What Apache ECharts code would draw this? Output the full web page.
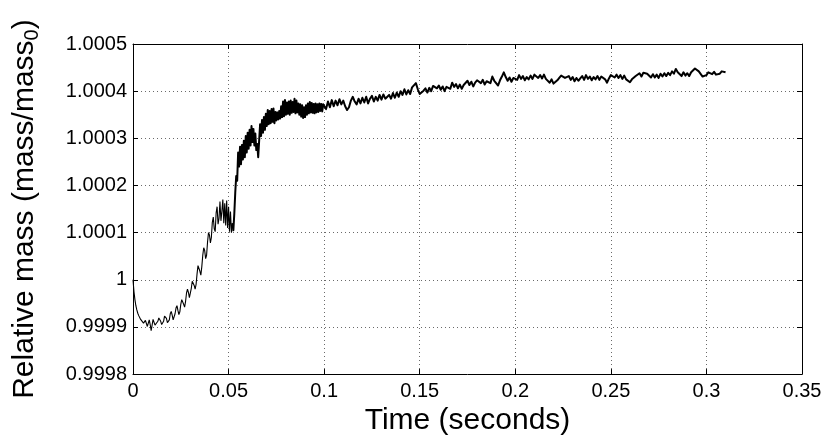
<!DOCTYPE html>
<html>
<head>
<meta charset="utf-8">
<script src="https://cdn.jsdelivr.net/npm/echarts@6/dist/echarts.min.js"></script>
<style>
html,body{margin:0;padding:0;background:#fff;}
#chart{width:825px;height:441px;}
</style>
</head>
<body>
<div id="chart"></div>
<script>
// ---- Data (relative mass) ----
// Segment A: t = 0 ... 0.052 s, sampled every 0.0005 s
const segATimeStart = 0.0, segATimeStep = 0.0005;
const massA = [
1.000000,0.999975,0.999958,0.999945,0.999936,0.999929,0.999924,0.999920,0.999916,0.999912,
0.999916,0.999908,0.999904,0.999914,0.999910,0.999901,0.999908,0.999915,0.999905,0.999892,
0.999904,0.999916,0.999912,0.999904,0.999900,0.999903,0.999912,0.999919,0.999920,0.999912,
0.999905,0.999904,0.999912,0.999923,0.999926,0.999918,0.999909,0.999907,0.999915,0.999928,
0.999933,0.999925,0.999915,0.999916,0.999928,0.999940,0.999945,0.999935,0.999926,0.999932,
0.999948,0.999958,0.999960,0.999948,0.999942,0.999954,0.999972,0.999980,0.999973,0.999962,
0.999964,0.999982,0.999997,1.000000,0.999988,0.999980,0.999990,1.000012,1.000030,1.000033,
1.000018,1.000010,1.000028,1.000052,1.000068,1.000062,1.000045,1.000052,1.000080,1.000100,
1.000095,1.000078,1.000090,1.000122,1.000133,1.000108,1.000102,1.000142,1.000155,1.000118,
1.000130,1.000166,1.000125,1.000145,1.000170,1.000120,1.000162,1.000115,1.000168,1.000110,
1.000155,1.000102,1.000145,1.000100,1.000120
];
// Segment B: t = 0.0525 ... 0.0995 s, sampled every 0.0005 s
const segBTimeStart = 0.0525, segBTimeStep = 0.0005;
const massB = [
1.000105,1.000140,1.000185,1.000220,1.000210,1.000270,1.000240,1.000282,1.000245,1.000286,
1.000255,1.000295,1.000260,1.000305,1.000270,1.000312,1.000278,1.000318,1.000285,1.000326,
1.000292,1.000320,1.000285,1.000310,1.000275,1.000288,1.000260,1.000295,1.000330,1.000305,
1.000339,1.000312,1.000345,1.000318,1.000352,1.000326,1.000360,1.000330,1.000358,1.000332,
1.000362,1.000335,1.000363,1.000332,1.000356,1.000338,1.000355,1.000340,1.000358,1.000342,
1.000368,1.000345,1.000378,1.000347,1.000381,1.000350,1.000376,1.000352,1.000378,1.000350,
1.000380,1.000354,1.000377,1.000356,1.000384,1.000353,1.000380,1.000355,1.000374,1.000350,
1.000372,1.000346,1.000370,1.000343,1.000366,1.000345,1.000370,1.000350,1.000374,1.000353,
1.000377,1.000355,1.000375,1.000354,1.000373,1.000353,1.000374,1.000355,1.000372,1.000356,
1.000374,1.000358,1.000373,1.000357,1.000372
];
// Segment C: t = 0.100 ... 0.310 s, sampled every 0.001 s
const segCTimeStart = 0.100, segCTimeStep = 0.001;
const massC = [
1.000374,1.000362,1.000378,1.000366,1.000381,1.000368,1.000380,1.000370,1.000383,1.000372,
1.000380,1.000368,1.000360,1.000366,1.000380,1.000388,1.000378,1.000372,1.000384,1.000374,
1.000386,1.000376,1.000388,1.000374,1.000384,1.000390,1.000378,1.000388,1.000380,1.000392,
1.000382,1.000393,1.000384,1.000380,1.000392,1.000384,1.000396,1.000386,1.000397,1.000388,
1.000400,1.000392,1.000404,1.000393,1.000402,1.000394,1.000408,1.000412,1.000417,1.000404,
1.000394,1.000391,1.000401,1.000406,1.000397,1.000407,1.000400,1.000411,1.000414,1.000406,
1.000412,1.000403,1.000410,1.000400,1.000409,1.000413,1.000405,1.000418,1.000409,1.000415,
1.000406,1.000414,1.000405,1.000413,1.000417,1.000422,1.000413,1.000420,1.000410,1.000418,
1.000423,1.000427,1.000417,1.000424,1.000414,1.000421,1.000425,1.000417,1.000431,1.000422,
1.000421,1.000412,1.000423,1.000431,1.000440,1.000430,1.000422,1.000429,1.000420,1.000428,
1.000432,1.000424,1.000434,1.000426,1.000432,1.000423,1.000430,1.000425,1.000433,1.000426,
1.000435,1.000437,1.000428,1.000434,1.000427,1.000435,1.000426,1.000424,1.000418,1.000425,
1.000416,1.000414,1.000423,1.000428,1.000433,1.000435,1.000428,1.000428,1.000432,1.000424,
1.000430,1.000421,1.000428,1.000422,1.000427,1.000432,1.000424,1.000434,1.000426,1.000431,
1.000423,1.000430,1.000425,1.000432,1.000424,1.000431,1.000433,1.000425,1.000418,1.000427,
1.000434,1.000437,1.000429,1.000435,1.000428,1.000434,1.000426,1.000433,1.000425,1.000424,
1.000419,1.000425,1.000427,1.000432,1.000434,1.000438,1.000431,1.000439,1.000443,1.000437,
1.000435,1.000429,1.000436,1.000429,1.000435,1.000428,1.000437,1.000431,1.000438,1.000432,
1.000439,1.000434,1.000442,1.000437,1.000447,1.000440,1.000439,1.000432,1.000440,1.000433,
1.000438,1.000432,1.000440,1.000442,1.000448,1.000451,1.000442,1.000439,1.000431,1.000430,
1.000434,1.000440,1.000441,1.000436,1.000441,1.000435,1.000435,1.000437,1.000442,1.000442,
1.000440
];

// Axis ticks
const xTickValues = [0, 0.05, 0.1, 0.15, 0.2, 0.25, 0.3, 0.35];
const yTickValues = [0.9998, 0.9999, 1, 1.0001, 1.0002, 1.0003, 1.0004, 1.0005];
const xTitle = 'Time (seconds)';
const yTitle = 'Relative mass (mass/mass';
const ySub = '0';

// ---- Build series data ----
function segment(t0, dt, vals) {
  return vals.map((v, i) => [Math.round((t0 + i * dt) * 1e7) / 1e7, v]);
}
const dataA = segment(segATimeStart, segATimeStep, massA);
const dataB = segment(segBTimeStart, segBTimeStep, massB);
const dataC = segment(segCTimeStart, segCTimeStep, massC);
// early (thin) part, and the noisy later part joined to it
const earlyData = dataA;
const lateData = [dataA[dataA.length - 1]].concat(dataB, dataC);

const FONT = 'Liberation Sans, Arial, Helvetica, sans-serif';
const xMin = xTickValues[0], xMax = xTickValues[xTickValues.length - 1];
const xInt = xTickValues[1] - xTickValues[0];
const yMin = yTickValues[0], yMax = yTickValues[yTickValues.length - 1];

const fmtX = v => String(+(+v).toFixed(2));
const fmtY = v => String(+(+v).toFixed(4));

const gridLine = { show: true, lineStyle: { color: '#6a6a6a', type: [1, 3], width: 1 } };
const axLine = { show: true, onZero: false, lineStyle: { color: '#000', width: 1 } };
const axTick = { show: true, inside: true, length: 5, lineStyle: { color: '#000', width: 1 } };

const chart = echarts.init(document.getElementById('chart'), null, { renderer: 'canvas' });
chart.setOption({
  animation: false,
  backgroundColor: '#fff',
  grid: { left: 133, right: 23, top: 44, bottom: 58, containLabel: false },
  xAxis: [
    {
      type: 'value', min: xMin, max: xMax, interval: xInt, position: 'bottom',
      name: xTitle, nameLocation: 'middle', nameGap: 26,
      nameTextStyle: { fontFamily: FONT, fontSize: 30, color: '#000' },
      axisLine: axLine, axisTick: axTick,
      axisLabel: { fontFamily: FONT, fontSize: 20, color: '#000', margin: 7, formatter: fmtX },
      splitLine: gridLine
    },
    {
      type: 'value', min: xMin, max: xMax, interval: xInt, position: 'top',
      axisLine: axLine, axisTick: axTick, axisLabel: { show: false }, splitLine: { show: false }
    }
  ],
  yAxis: [
    {
      type: 'value', min: yMin, max: yMax, interval: 0.0001, position: 'left',
      name: '{a|' + yTitle + '}{s|' + ySub + '}{a|)}', nameLocation: 'middle', nameGap: 88,
      nameTextStyle: {
        color: '#000',
        rich: {
          a: { fontFamily: FONT, fontSize: 30, color: '#000', lineHeight: 40, verticalAlign: 'middle' },
          s: { fontFamily: FONT, fontSize: 20, color: '#000', lineHeight: 20, verticalAlign: 'bottom', padding: [0, 0, 3, 0] }
        }
      },
      axisLine: axLine, axisTick: axTick,
      axisLabel: { fontFamily: FONT, fontSize: 20, color: '#000', margin: 6, formatter: fmtY },
      splitLine: gridLine
    },
    {
      type: 'value', min: yMin, max: yMax, interval: 0.0001, position: 'right',
      axisLine: axLine, axisTick: axTick, axisLabel: { show: false }, splitLine: { show: false }
    }
  ],
  series: [
    {
      type: 'line', data: earlyData, xAxisIndex: 0, yAxisIndex: 0,
      showSymbol: false, symbol: 'none', sampling: null,
      lineStyle: { color: '#000', width: 1.1 }, z: 3
    },
    {
      type: 'line', data: lateData, xAxisIndex: 0, yAxisIndex: 0,
      showSymbol: false, symbol: 'none', sampling: null,
      lineStyle: { color: '#000', width: 2.0, join: 'round' }, z: 3
    }
  ]
});
</script>
</body>
</html>
